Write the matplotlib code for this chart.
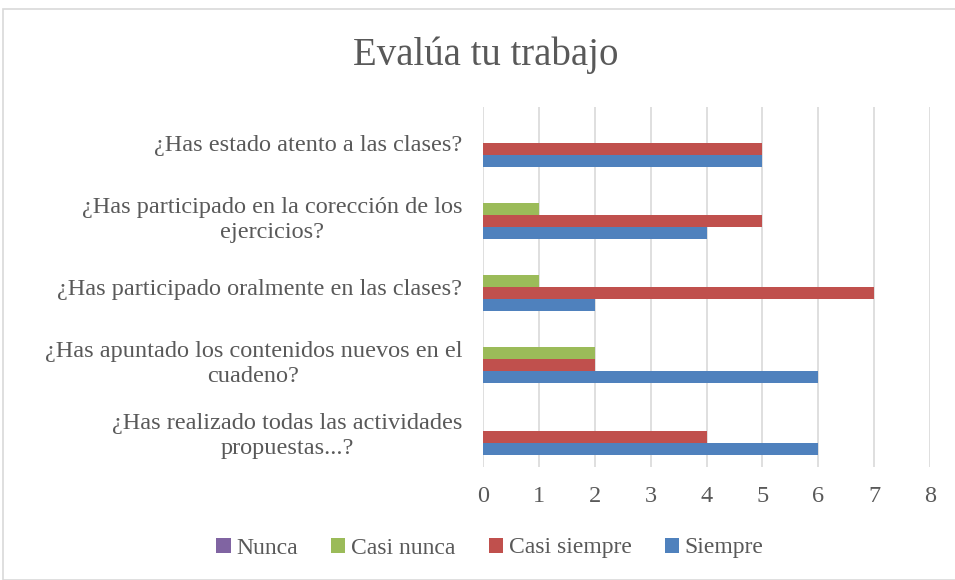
import numpy as np
import matplotlib.pyplot as plt
from matplotlib.patches import Rectangle

categories = [
    "¿Has estado atento a las clases?",
    "¿Has participado en la corección de los\nejercicios?",
    "¿Has participado oralmente en las clases?",
    "¿Has apuntado los contenidos nuevos en el\ncuadeno?",
    "¿Has realizado todas las actividades\npropuestas...?",
]
series_names = ["Nunca", "Casi nunca", "Casi siempre", "Siempre"]
nunca = [0, 0, 0, 0, 0]
casi_nunca = [0, 1, 1, 2, 0]
casi_siempre = [5, 5, 7, 2, 4]
siempre = [5, 4, 2, 6, 6]
colors = ["#8064a2", "#9bbb59", "#c0504d", "#4f81bd"]
xticks = [0, 1, 2, 3, 4, 5, 6, 7, 8]

txt = "#595959"
plt.rcParams['font.family'] = ['Liberation Serif', 'DejaVu Serif']

fig = plt.figure(figsize=(9.55, 5.8), dpi=100)
fig.patches.append(Rectangle((3 / 955, 0), 1.0, 1 - 9 / 580, transform=fig.transFigure,
                             fill=False, edgecolor="#d9d9d9", linewidth=1.2))
ax = fig.add_axes([483 / 955, 1 - 467 / 580, (930 - 483) / 955, (467 - 107) / 580])

n = len(categories)
y = np.arange(n)[::-1].astype(float)  # top category highest
h = 1 / 6
data = [nunca, casi_nunca, casi_siempre, siempre]
offsets = [1.5 * h, 0.5 * h, -0.5 * h, -1.5 * h]
for vals, off, c, name in zip(data, offsets, colors, series_names):
    ax.barh(y + off, vals, height=h, color=c, label=name, zorder=3)

ax.set_ylim(-0.5, n - 0.5)
ax.set_xlim(0, 8)
ax.set_xticks(xticks)
ax.set_xticklabels([str(t) for t in xticks])
ax.grid(axis='x', color="#d9d9d9", linewidth=1.2, zorder=0)
ax.set_yticks(y)
ax.set_yticklabels(categories, multialignment='center', linespacing=1.3)
for s in ax.spines.values():
    s.set_visible(False)
ax.tick_params(axis='both', length=0, colors=txt, labelsize=17.5)
ax.tick_params(axis='x', pad=14)
ax.tick_params(axis='y', pad=15)

fig.text(486 / 955, 1 - 55 / 580, "Evalúa tu trabajo", ha='center', va='center',
         fontsize=28, color=txt)

handles, labels = ax.get_legend_handles_labels()
fig.legend(handles, labels, loc='center', bbox_to_anchor=(490 / 955, 1 - 548 / 580),
           ncol=4, frameon=False, fontsize=17, labelcolor=txt,
           handlelength=0.6, handleheight=0.6, handletextpad=0.25, columnspacing=1.4)

fig.savefig("out.png", dpi=100)
